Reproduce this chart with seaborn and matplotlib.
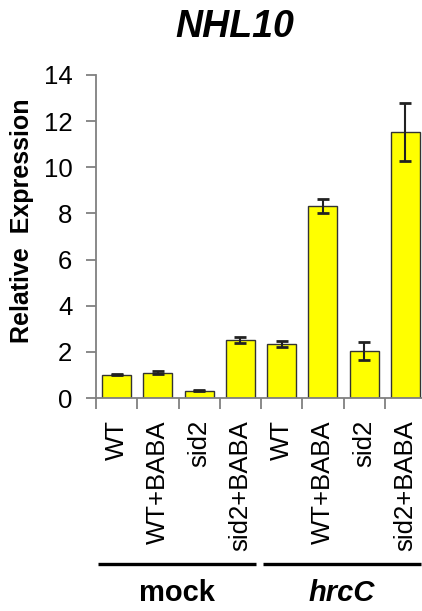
import matplotlib
matplotlib.use("Agg")
import matplotlib.pyplot as plt
import matplotlib.transforms as mtransforms
import seaborn as sns
import pandas as pd
import numpy as np

sns.set_style("ticks")
plt.rcParams['font.family'] = ['Liberation Sans', 'DejaVu Sans']
plt.rcParams['text.color'] = 'black'
plt.rcParams['xtick.labelcolor'] = 'black'
plt.rcParams['ytick.labelcolor'] = 'black'

# ---- data ----
conditions = ["WT", "WT+BABA", "sid2", "sid2+BABA", "WT", "WT+BABA", "sid2", "sid2+BABA"]
groups = ["mock", "mock", "mock", "mock", "hrcC", "hrcC", "hrcC", "hrcC"]
values = [1.01, 1.10, 0.32, 2.51, 2.35, 8.32, 2.04, 11.53]
errors = [0.03, 0.06, 0.02, 0.13, 0.14, 0.29, 0.39, 1.27]
group_names = ["mock", "hrcC"]
title = "NHL10"
ylabel = "Relative  Expression"
yticks = [0, 2, 4, 6, 8, 10, 12, 14]

keys = [f"{g}|{c}" for g, c in zip(groups, conditions)]
df = pd.DataFrame({"key": keys, "value": values, "err": errors})

fig = plt.figure(figsize=(4.22, 6.11), dpi=100)
ax = fig.add_axes([96/422, 1-398/611, 330/422, (398-75)/611])

sns.barplot(data=df, x="key", y="value", order=keys, color="#FFFF00",
            edgecolor="#333333", linewidth=1.0, width=0.7, errorbar=None,
            saturation=1, ax=ax)
xs = np.arange(len(keys))
ax.errorbar(xs, df["value"], yerr=df["err"], fmt="none", ecolor="#222222",
            elinewidth=1.5, capsize=4, capthick=2)

ax.set_ylim(0, 14)
ax.set_xlim(-0.5, len(keys) - 0.5)
ax.set_yticks(yticks)
ax.set_yticklabels([str(t) for t in yticks], fontsize=18.5)
ax.set_xticks(xs)
ax.set_xticklabels(conditions, rotation=90, fontsize=18.5, va="top", ha="center")
ax.set_xticks(np.arange(len(keys) + 1) - 0.5, minor=True)
ax.tick_params(axis="x", which="major", length=0, pad=16)
ax.tick_params(axis="x", which="minor", length=8, width=1.3, color="#808080", direction="out")
ax.tick_params(axis="y", length=7, width=1.3, color="#808080", pad=10)
ax.set_xlabel("")
ax.set_ylabel("")
sns.despine(ax=ax)
for s in ["left", "bottom"]:
    ax.spines[s].set_color("#808080")
    ax.spines[s].set_linewidth(1.3)

# group brackets
trans = mtransforms.blended_transform_factory(ax.transData, fig.transFigure)
ymline = 1 - 564/611
for gname in group_names:
    idx = [i for i, g in enumerate(groups) if g == gname]
    x0, x1 = min(idx) - 0.45, max(idx) + 0.38
    ax.plot([x0, x1], [ymline, ymline], transform=trans, color="black",
            lw=2.4, clip_on=False, solid_capstyle="butt")
    ax.text(np.mean(idx) - 0.04, 1 - 593/611, gname, transform=trans,
            ha="center", va="center", fontsize=21, fontweight="bold",
            fontstyle="normal" if gname == "mock" else "italic")

fig.text(235/422, 1 - 27/611, title, ha="center", va="center",
         fontsize=27, fontweight="bold", fontstyle="italic")
fig.text(22/422, 1 - 221/611, ylabel, ha="center", va="center", rotation=90,
         fontsize=18, fontweight="bold")

fig.savefig("out.png", dpi=100)
